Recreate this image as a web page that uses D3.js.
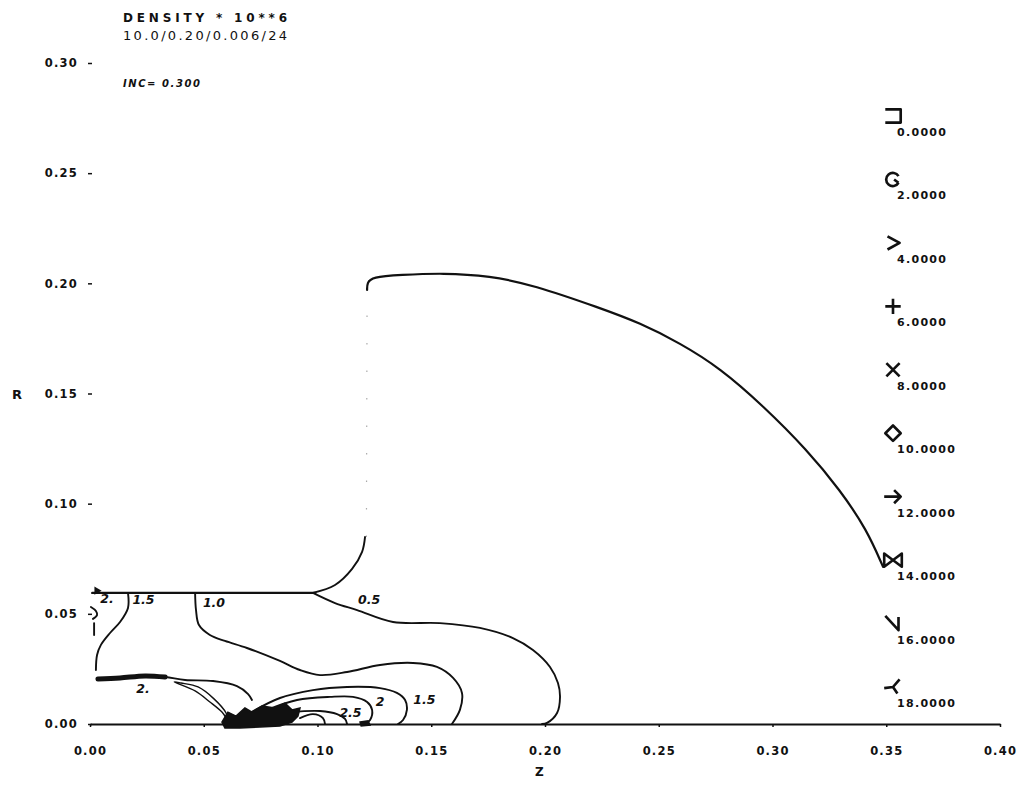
<!DOCTYPE html>
<html lang="en">
<head>
  <meta charset="UTF-8">
  <title>Density contours</title>
  <script src="https://d3js.org/d3.v7.min.js"></script>
  <style>
    html, body {
      margin: 0;
      padding: 0;
      background: #fff;
    }
    svg text {
      font-family: "DejaVu Sans", sans-serif;
      font-weight: bold;
      fill: #111;
    }
    .tick text {
      font-size: 11.5px;
      letter-spacing: 1.2px;
    }
    .contour {
      fill: none;
      stroke: #111;
      stroke-width: 1.9px;
      stroke-linejoin: round;
      stroke-linecap: round;
    }
    .clabel {
      font-style: italic;
      font-size: 12.5px;
    }
  </style>
</head>
<body>
  <div id="chart"></div>

  <script>
    // axis ticks
    const zTicks = [0, 0.05, 0.10, 0.15, 0.20, 0.25, 0.30, 0.35, 0.40];
    const rTicks = [0, 0.05, 0.10, 0.15, 0.20, 0.25, 0.30];

    // legend (plot symbols and their values)
    const legendValues = [0, 2, 4, 6, 8, 10, 12, 14, 16, 18];

    // outer boundary lines, [z, r]
    const topLine = [[0.001, 0.0595], [0.099, 0.0595]];
    const riseCurve = [[0.098, 0.0595], [0.1077, 0.0631], [0.1152, 0.0704], [0.1196, 0.0781], [0.1209, 0.0849]];
    const faintEdge = [[0.1215, 0.0849], [0.1218, 0.197]];
    const outerArc = [
      [0.1218, 0.197], [0.1218, 0.2002], [0.124, 0.2029], [0.1363, 0.2038], [0.1552, 0.2047],
      [0.1758, 0.2034], [0.1947, 0.1993], [0.2242, 0.1888], [0.2418, 0.1820], [0.2593, 0.1729],
      [0.2769, 0.1616], [0.2958, 0.1445], [0.3152, 0.1244], [0.3297, 0.1062], [0.3415, 0.0881],
      [0.3486, 0.0713]
    ];

    // density contours
    const c05 = [
      [0.098, 0.0595], [0.1077, 0.0549], [0.1174, 0.0517], [0.1332, 0.0463], [0.1538, 0.0458],
      [0.1714, 0.0436], [0.1859, 0.0390], [0.1947, 0.0336], [0.2022, 0.0259], [0.2057, 0.0186],
      [0.2066, 0.0123], [0.2053, 0.0050], [0.2009, 0.0005], [0.1987, 0]
    ];
    const c10 = [
      [0.0462, 0.0595], [0.0466, 0.0517], [0.0479, 0.0449], [0.0527, 0.0404], [0.0593, 0.0377],
      [0.069, 0.0345], [0.0835, 0.0286], [0.0923, 0.0245], [0.1011, 0.0222], [0.113, 0.0236],
      [0.1275, 0.0268], [0.142, 0.0277], [0.1525, 0.0259], [0.1596, 0.0209], [0.1635, 0.0141],
      [0.1626, 0.0064], [0.1591, 0]
    ];
    const c15left = [
      [0.0167, 0.0595], [0.0167, 0.0527], [0.0132, 0.0463], [0.0088, 0.0413], [0.0048, 0.0359],
      [0.0031, 0.0313], [0.0026, 0.0245]
    ];
    const c15 = [
      [0.0703, 0.005], [0.0835, 0.0118], [0.098, 0.0154], [0.113, 0.0168], [0.1275, 0.0163],
      [0.1349, 0.0141], [0.1385, 0.0109], [0.1393, 0.0064], [0.1376, 0.0018], [0.1354, 0]
    ];
    const c20 = [
      [0.0778, 0.0064], [0.091, 0.0109], [0.1055, 0.0123], [0.1156, 0.0123], [0.1218, 0.0100],
      [0.124, 0.0064], [0.1231, 0.0018], [0.1209, 0]
    ];
    const c25 = [[0.0879, 0.0054], [0.1011, 0.0059], [0.1086, 0.0045], [0.1121, 0.0023], [0.113, 0]];
    const c30 = [[0.0923, 0.0027], [0.098, 0.0045], [0.1024, 0.0027], [0.1033, 0]];
    const c20leftBand = [[0.0035, 0.0204], [0.0132, 0.0209], [0.0242, 0.0218], [0.033, 0.0213]];
    const c20left = [
      [0.0035, 0.0204], [0.0132, 0.0209], [0.0242, 0.0218], [0.033, 0.0213], [0.0418, 0.0200],
      [0.0541, 0.0195], [0.0646, 0.0172], [0.0695, 0.0136], [0.0712, 0.0109]
    ];
    const teardrop = [
      [0.0370, 0.0191], [0.0462, 0.0150], [0.0527, 0.0100], [0.0580, 0.0054], [0.0606, 0.0018],
      [0.0598, 0.0050], [0.0545, 0.0114], [0.0475, 0.0168], [0.0400, 0.0186]
    ];
    const edgeHook = [[0.0004, 0.0531], [0.0026, 0.0513], [0.0031, 0.0495], [0.0013, 0.0477]];
    const edgeTick = [[0.0018, 0.0458], [0.0018, 0.0404]];
    const singularBlob = [
      [0.0580, 0.0009], [0.0606, 0.0054], [0.0642, 0.0036], [0.0681, 0.0073], [0.0712, 0.0054],
      [0.0756, 0.0082], [0.0813, 0.0073], [0.0857, 0.0095], [0.0888, 0.0064], [0.0923, 0.0073],
      [0.0914, 0.0036], [0.0888, 0.0009], [0.0835, -0.0009], [0.0747, -0.0014], [0.0659, -0.0018],
      [0.0593, -0.0018]
    ];
    const smallBlob = [[0.1187, 0.0009], [0.1222, 0.0014], [0.1231, -0.0005], [0.1192, -0.0009]];

    const contourLabels = [
      { z: 0.0075, r: 0.0548, t: "2." },
      { z: 0.0235, r: 0.0545, t: "1.5" },
      { z: 0.0545, r: 0.0530, t: "1.0" },
      { z: 0.1227, r: 0.0545, t: "0.5" },
      { z: 0.0233, r: 0.0140, t: "2." },
      { z: 0.1275, r: 0.0082, t: "2" },
      { z: 0.1470, r: 0.0093, t: "1.5" },
      { z: 0.1145, r: 0.0030, t: "2.5" }
    ];

    const W = 1020, H = 797;
    const x = d3.scaleLinear().domain([0, 0.4]).range([90, 1000]);
    const y = d3.scaleLinear().domain([0, 0.3]).range([724, 63]);
    const line = d3.line().x(d => x(d[0])).y(d => y(d[1])).curve(d3.curveCatmullRom.alpha(0.5));
    const smooth = d3.line().x(d => x(d[0])).y(d => y(d[1])).curve(d3.curveBasis);
    const straight = d3.line().x(d => x(d[0])).y(d => y(d[1]));

    const svg = d3.select("#chart").append("svg")
      .attr("width", W)
      .attr("height", H);

    // header texts
    svg.append("text").attr("x", 123).attr("y", 22)
      .attr("textLength", 164).attr("lengthAdjust", "spacing")
      .style("font-size", "12px").text("DENSITY * 10**6");
    svg.append("text").attr("x", 123).attr("y", 40)
      .attr("textLength", 164).attr("lengthAdjust", "spacing")
      .style("font-size", "13px").style("font-weight", "normal").text("10.0/0.20/0.006/24");
    svg.append("text").attr("x", 123).attr("y", 87)
      .attr("textLength", 77).attr("lengthAdjust", "spacing")
      .style("font-size", "10px").style("font-style", "italic").text("INC= 0.300");

    // x axis
    const xAxis = svg.append("g")
      .attr("transform", "translate(0,724)")
      .call(d3.axisBottom(x).tickValues(zTicks).tickSize(3).tickSizeOuter(0)
        .tickPadding(20).tickFormat(d3.format(".2f")));
    xAxis.select(".domain").attr("stroke", "#111").attr("stroke-width", 2.2);
    xAxis.selectAll(".tick line").attr("stroke", "#111").attr("stroke-width", 1.5);

    // y axis, ticks only
    const yAxis = svg.append("g")
      .attr("transform", "translate(92,0)")
      .call(d3.axisLeft(y).tickValues(rTicks).tickSize(4).tickPadding(10)
        .tickFormat(d3.format(".2f")));
    yAxis.select(".domain").remove();
    yAxis.selectAll(".tick line").attr("stroke", "#111").attr("stroke-width", 1.5);

    svg.append("text").attr("x", 12).attr("y", 399).style("font-size", "13px").text("R");
    svg.append("text").attr("x", 535).attr("y", 776).style("font-size", "12px").text("Z");

    // boundary
    svg.append("path").attr("class", "contour").attr("d", straight(topLine)).style("stroke-width", 2.4);
    svg.append("path").attr("class", "contour").attr("d", line(riseCurve));
    svg.append("path").attr("d", straight(faintEdge))
      .attr("fill", "none").attr("stroke", "#aaa").attr("stroke-width", 1.2)
      .attr("stroke-dasharray", "1.5 26");
    svg.append("path").attr("class", "contour").attr("d", smooth(outerArc)).style("stroke-width", 2.2);

    // contours
    [c05, c10, c15left, c15, c20, c25, c30, c20left, edgeHook, edgeTick].forEach(c => {
      svg.append("path").attr("class", "contour").attr("d", line(c));
    });
    svg.append("path").attr("class", "contour").attr("d", line(c20leftBand)).style("stroke-width", 5);
    svg.append("path").attr("class", "contour")
      .attr("d", d3.line().x(d => x(d[0])).y(d => y(d[1])).curve(d3.curveCatmullRomClosed)(teardrop))
      .style("stroke-width", 1.4);
    [singularBlob, smallBlob].forEach(b => {
      svg.append("path")
        .attr("d", straight(b) + "Z")
        .attr("fill", "#111").attr("stroke", "#111").attr("stroke-width", 1.5);
    });

    // start marker at axis
    svg.append("path")
      .attr("d", d3.symbol(d3.symbolTriangle, 30)())
      .attr("transform", `translate(${x(0.003)},${y(0.0605)}) rotate(90)`)
      .attr("fill", "#111");

    svg.selectAll(".clabel").data(contourLabels).join("text")
      .attr("class", "clabel")
      .attr("x", d => x(d.z)).attr("y", d => y(d.r))
      .attr("text-anchor", "middle")
      .text(d => d.t);

    // legend
    const symbolPaths = [
      "M-7,-6H7V6H-7",
      "M5,-3A6,6 0 1,0 5,3M5,3L1,0",
      "M-5,-6L6,0L-5,6",
      "M-7,0H7M0,-7V7",
      "M-6,-6L6,6M6,-6L-6,6",
      "M0,-7L7,0L0,7L-7,0Z",
      "M-8,0H7M1,-6L7,0L1,6",
      "M-8,-6L8,6L8,-6L-8,6Z",
      "M-7,-7L5,6L5,-6",
      "M-8,1L0,0L6,-7M0,0L4,6"
    ];
    const ly = d3.scalePoint().domain(legendValues).range([116, 687]);
    const legend = svg.append("g");
    const item = legend.selectAll("g").data(legendValues).join("g")
      .attr("transform", d => `translate(893,${ly(d)})`);
    item.append("path")
      .attr("d", (d, i) => symbolPaths[i])
      .attr("transform", "scale(1.1)")
      .attr("fill", "none").attr("stroke", "#111").attr("stroke-width", 2.4)
      .attr("stroke-linejoin", "round");
    item.append("text")
      .attr("x", 4).attr("y", 20)
      .style("font-size", "11px").style("letter-spacing", "1.3px")
      .text(d => d3.format(".4f")(d));
  </script>
</body>
</html>
